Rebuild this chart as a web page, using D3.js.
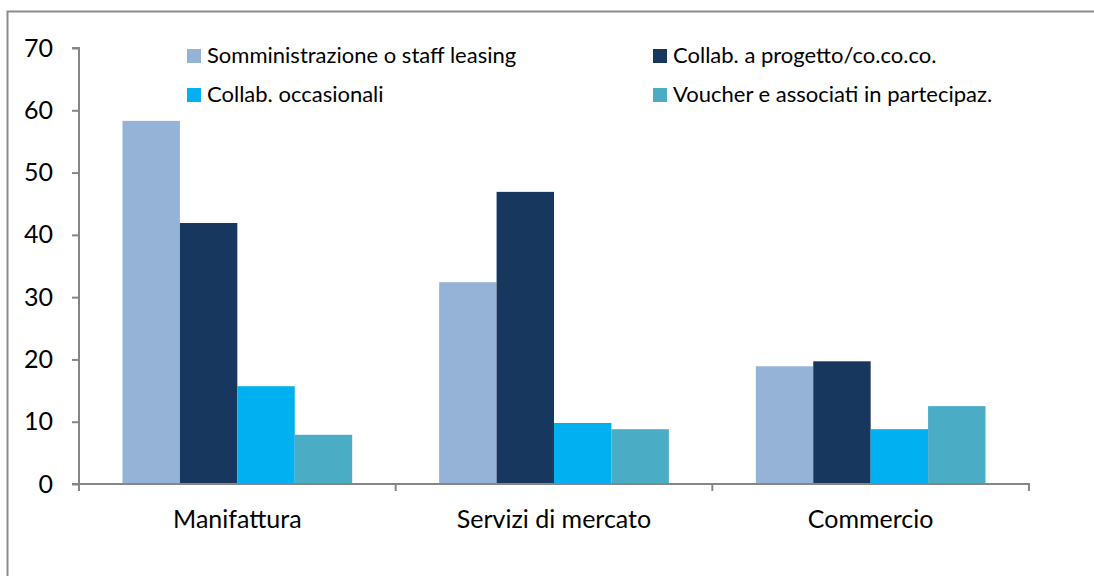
<!DOCTYPE html>
<html>
<head>
<meta charset="utf-8">
<script src="https://cdn.jsdelivr.net/npm/d3@7"></script>
<style>
  body { margin: 0; background: #fff; }
  text { font-family: Lato, "Open Sans", sans-serif; fill: #000; }
</style>
</head>
<body>
<div id="main"></div>
<script>
const categories = ["Manifattura", "Servizi di mercato", "Commercio"];
const seriesNames = [
  "Somministrazione o staff leasing",
  "Collab. a progetto/co.co.co.",
  "Collab. occasionali",
  "Voucher e associati in partecipaz."
];
const somministrazione = [58.3, 32.4, 18.9];
const progetto = [41.9, 46.9, 19.7];
const occasionali = [15.7, 9.8, 8.8];
const voucher = [7.9, 8.8, 12.5];
const yTicks = [0, 10, 20, 30, 40, 50, 60, 70];

const colors = ["#95b3d7", "#17375e", "#00b0f0", "#4bacc6"];
const allSeries = [somministrazione, progetto, occasionali, voucher];

const width = 1094;
const height = 576;
const plotLeft = 79, plotRight = 1029, plotTop = 48, plotBottom = 484;

const svg = d3.select("#main")
  .append("svg")
  .attr("width", width)
  .attr("height", height);

// chart frame
svg.append("rect")
  .attr("x", 7.5)
  .attr("y", 11.5)
  .attr("width", width + 10)
  .attr("height", height + 10)
  .attr("fill", "none")
  .attr("stroke", "#8c8c8c")
  .attr("stroke-width", 2);

const y = d3.scaleLinear().domain([0, 70]).range([plotBottom, plotTop]);

const x0 = d3.scaleBand().domain(categories).range([plotLeft, plotRight]).padding(0);
const groupPad = 43.5;
const x1 = d3.scaleBand()
  .domain(d3.range(seriesNames.length))
  .range([groupPad, x0.bandwidth() - groupPad])
  .padding(0);

// bars
const groups = svg.append("g")
  .selectAll("g")
  .data(categories)
  .enter()
  .append("g")
  .attr("transform", d => "translate(" + x0(d) + ",0)");

groups.selectAll("rect")
  .data((d, ci) => allSeries.map((s, si) => ({ si: si, v: s[ci] })))
  .enter()
  .append("rect")
  .attr("x", d => x1(d.si))
  .attr("y", d => y(d.v))
  .attr("width", x1.bandwidth())
  .attr("height", d => y(0) - y(d.v))
  .attr("fill", d => colors[d.si]);

// y axis
const yAxis = d3.axisLeft(y)
  .tickValues(yTicks)
  .tickSize(7)
  .tickPadding(19);

const yg = svg.append("g")
  .attr("transform", "translate(" + plotLeft + ",0)")
  .call(yAxis);
yg.select(".domain").attr("stroke", "#868686").attr("stroke-width", 2)
  .attr("d", "M-7," + plotTop + "H0V" + plotBottom);
yg.selectAll(".tick line").attr("stroke", "#868686").attr("stroke-width", 2);
yg.selectAll(".tick text")
  .style("font-size", "25px")
  .style("font-family", "Lato, sans-serif")
  .attr("fill", "#000");

// x axis
const xg = svg.append("g")
  .attr("transform", "translate(0," + plotBottom + ")");
xg.append("line")
  .attr("x1", plotLeft - 7)
  .attr("x2", plotRight + 1)
  .attr("stroke", "#868686")
  .attr("stroke-width", 2);
const boundaries = categories.map(c => x0(c)).concat([plotRight]);
xg.selectAll(".xtick")
  .data(boundaries)
  .enter()
  .append("line")
  .attr("x1", d => d)
  .attr("x2", d => d)
  .attr("y1", 0)
  .attr("y2", 7)
  .attr("stroke", "#868686")
  .attr("stroke-width", 2);
xg.selectAll(".xlabel")
  .data(categories)
  .enter()
  .append("text")
  .attr("x", d => x0(d) + x0.bandwidth() / 2)
  .attr("y", 44)
  .attr("text-anchor", "middle")
  .style("font-size", "25px")
  .text(d => d);

// legend
const legendPos = [
  { x: 187, y: 49 }, { x: 653, y: 49 },
  { x: 187, y: 88 }, { x: 653, y: 88 }
];
const legend = svg.append("g")
  .selectAll("g")
  .data(seriesNames)
  .enter()
  .append("g")
  .attr("transform", (d, i) => "translate(" + legendPos[i].x + "," + legendPos[i].y + ")");
legend.append("rect")
  .attr("width", 14)
  .attr("height", 14)
  .attr("fill", (d, i) => colors[i]);
legend.append("text")
  .attr("x", 20)
  .attr("y", 14)
  .style("font-size", "22px")
  .text(d => d);
</script>
</body>
</html>
